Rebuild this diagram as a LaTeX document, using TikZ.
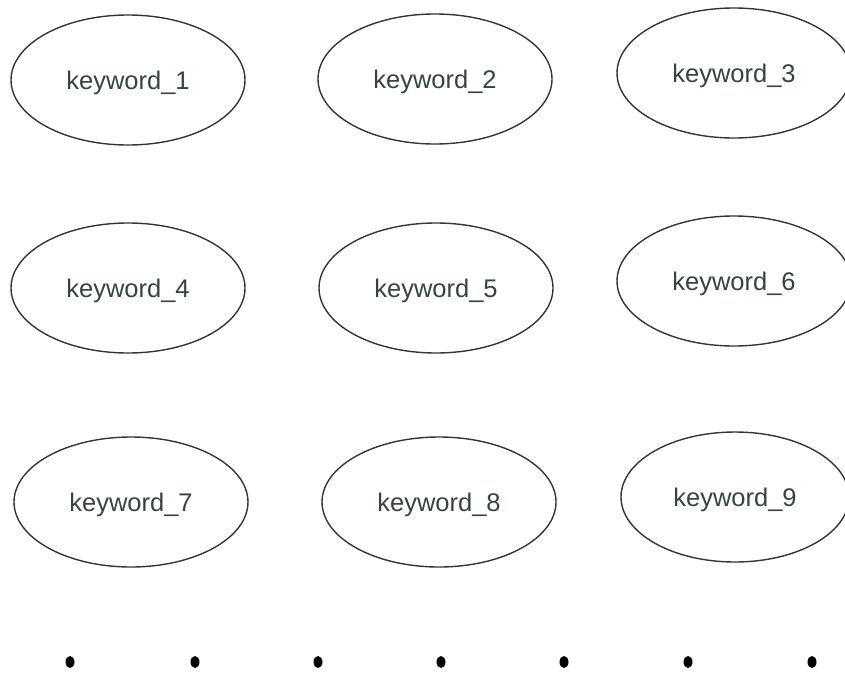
\documentclass[tikz,border=0pt]{standalone}
\usepackage{fontspec}
\setmainfont{Liberation Sans}
\usepackage{xcolor}
\usepackage{tikz}
\usetikzlibrary{shapes.geometric}
\definecolor{kwline}{HTML}{333634}
\definecolor{kwtext}{HTML}{35443C}
\tikzset{
  keyword/.style={ellipse,draw=kwline,line width=1.4pt,inner sep=0pt,
    minimum width=234pt,minimum height=130pt,text=kwtext,text depth=0pt,
    font=\fontsize{25.5}{30}\selectfont},
  blackdot/.style={ellipse,fill=black,inner sep=0pt,
    minimum width=9pt,minimum height=12pt}
}
\begin{document}
\begin{tikzpicture}[x=1pt,y=-1pt]
  \useasboundingbox (0,0) rectangle (845,699);
  % first row
  \node[keyword] (kw1) at (128,80) {keyword\_1};
  \node[keyword] (kw2) at (435,79) {keyword\_2};
  \node[keyword] (kw3) at (734,73) {keyword\_3};
  % second row
  \node[keyword] (kw4) at (128,288) {keyword\_4};
  \node[keyword] (kw5) at (436,288) {keyword\_5};
  \node[keyword] (kw6) at (734,281) {keyword\_6};
  % third row
  \node[keyword] (kw7) at (131,502) {keyword\_7};
  \node[keyword] (kw8) at (439,502) {keyword\_8};
  \node[keyword,minimum width=228pt] (kw9) at (735,497) {keyword\_9};
  % dots
  \node[blackdot] (dot1) at (70,662) {};
  \node[blackdot] (dot2) at (195,662) {};
  \node[blackdot] (dot3) at (318,662) {};
  \node[blackdot] (dot4) at (441,662) {};
  \node[blackdot] (dot5) at (564,662) {};
  \node[blackdot] (dot6) at (688,662) {};
  \node[blackdot] (dot7) at (812,662) {};
\end{tikzpicture}
\end{document}
